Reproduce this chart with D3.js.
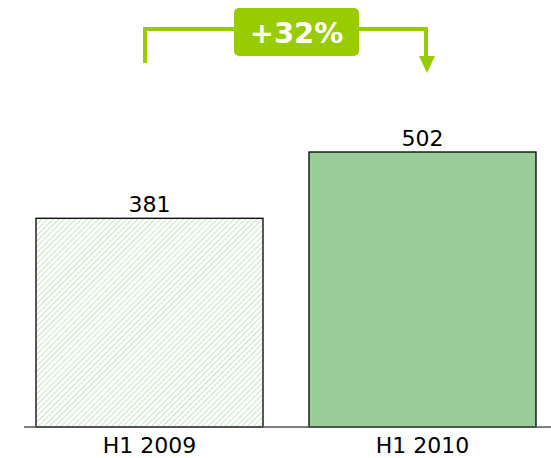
<!DOCTYPE html>
<html>
<head>
<meta charset="utf-8">
<script src="https://cdn.jsdelivr.net/npm/d3@7"></script>
<style>
  body { margin: 0; background: #fff; }
  text { font-family: "DejaVu Sans", Verdana, sans-serif; }
</style>
</head>
<body>
<div class="chart"></div>
<script>
const categories = ["H1 2009", "H1 2010"];
const values = [381, 502];
const growthLabel = "+32%";

const width = 551, height = 458;
const green = "#99cc00";

const svg = d3.select(".chart").append("svg")
    .attr("width", width)
    .attr("height", height);

// hatch pattern for the first bar
const defs = svg.append("defs");
const pat = defs.append("pattern")
    .attr("id", "hatch")
    .attr("patternUnits", "userSpaceOnUse")
    .attr("width", 4)
    .attr("height", 4)
    .attr("patternTransform", "rotate(45)");
pat.append("line")
    .attr("x1", 0).attr("y1", 0)
    .attr("x2", 0).attr("y2", 4)
    .style("stroke", "#b9dfb7")
    .style("stroke-width", 1.6);

const x = d3.scaleBand()
    .domain(categories)
    .range([36, 536])
    .paddingInner(46 / 273)
    .paddingOuter(0);

const y = d3.scaleLinear()
    .domain([0, 502])
    .range([427, 152]);

const bars = svg.append("g");

bars.selectAll("rect")
    .data(values)
    .join("rect")
    .attr("x", (d, i) => x(categories[i]))
    .attr("y", d => y(d))
    .attr("width", x.bandwidth())
    .attr("height", d => y(0) - y(d))
    .style("fill", (d, i) => i === 0 ? "url(#hatch)" : "#9bcd98")
    .style("stroke", "#000")
    .style("stroke-width", 1.3);

bars.selectAll(".val")
    .data(values)
    .join("text")
    .attr("class", "val")
    .attr("x", (d, i) => x(categories[i]) + x.bandwidth() / 2)
    .attr("y", d => y(d) - 6)
    .attr("text-anchor", "middle")
    .style("font-size", "22px")
    .style("fill", "#000")
    .text(d => d);

// baseline
svg.append("line")
    .attr("x1", 24).attr("x2", width)
    .attr("y1", y(0)).attr("y2", y(0))
    .style("stroke", "#555")
    .style("stroke-width", 1.3);

bars.selectAll(".cat")
    .data(categories)
    .join("text")
    .attr("class", "cat")
    .attr("x", d => x(d) + x.bandwidth() / 2)
    .attr("y", 453)
    .attr("text-anchor", "middle")
    .style("font-size", "22px")
    .style("fill", "#000")
    .text(d => d);

// growth arrow
const g = svg.append("g");
g.append("path")
    .attr("d", "M145,63 V29 H426 V58")
    .style("fill", "none")
    .style("stroke", green)
    .style("stroke-width", 4);
g.append("path")
    .attr("d", "M419,56 L435,56 L427,73 Z")
    .style("fill", green);
g.append("rect")
    .attr("x", 234).attr("y", 8)
    .attr("width", 125).attr("height", 48)
    .attr("rx", 5)
    .style("fill", green);
g.append("text")
    .attr("x", 296.5).attr("y", 43)
    .attr("text-anchor", "middle")
    .style("font-size", "29px")
    .style("font-weight", "bold")
    .style("fill", "#fff")
    .text(growthLabel);
</script>
</body>
</html>
